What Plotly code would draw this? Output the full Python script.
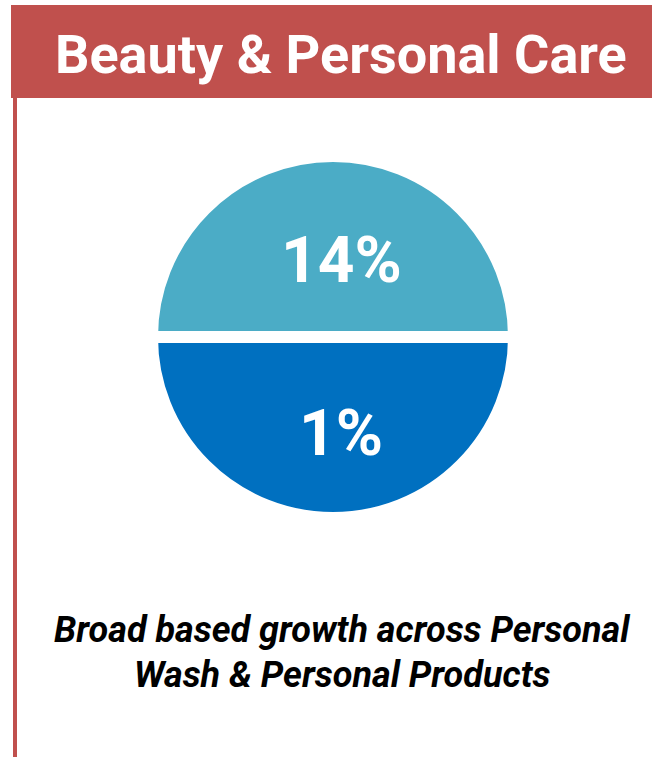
import plotly.graph_objects as go

W, H = 652, 757

# Data
title_text = "Beauty & Personal Care"
segments = ["Personal Wash", "Personal Products"]
growth_labels = ["14%", "1%"]
shares = [50, 50]
slice_colors = ["#4BACC6", "#0070C0"]
caption_lines = ["Broad based growth across Personal", "Wash & Personal Products"]

RED = "#C0504D"

def px(x):
    return x / W

def py(y):
    return 1 - y / H

fig = go.Figure()

cx, cy, R = 333, 337, 181
fig.add_trace(go.Pie(
    labels=segments,
    values=shares,
    text=growth_labels,
    sort=False,
    direction="clockwise",
    rotation=270,
    marker=dict(colors=slice_colors, line=dict(color="white", width=12)),
    textinfo="none",
    hoverinfo="label+text",
    showlegend=False,
    domain=dict(x=[px(cx - R), px(cx + R)], y=[py(cy + R), py(cy - R)]),
))

shapes = [
    dict(type="rect", xref="paper", yref="paper",
         x0=px(11), x1=px(652), y0=py(98), y1=py(5),
         fillcolor=RED, line=dict(width=0), layer="below"),
    dict(type="rect", xref="paper", yref="paper",
         x0=px(13), x1=px(17), y0=py(757), y1=py(98),
         fillcolor=RED, line=dict(width=0), layer="below"),
]

annotations = [
    dict(text="<b>" + title_text + "</b>", x=px(341), y=py(54),
         xref="paper", yref="paper", showarrow=False,
         xanchor="center", yanchor="middle",
         font=dict(family="Roboto", size=54, color="white")),
]

label_y = [260, 433]
for lab, ly in zip(growth_labels, label_y):
    annotations.append(dict(text="<b>" + lab + "</b>", x=px(341), y=py(ly),
                            xref="paper", yref="paper", showarrow=False,
                            xanchor="center", yanchor="middle",
                            font=dict(family="Roboto", size=64, color="white")))

cap_y = [630, 675]
for line, ly in zip(caption_lines, cap_y):
    annotations.append(dict(text="<b><i>" + line + "</i></b>", x=px(342), y=py(ly),
                            xref="paper", yref="paper", showarrow=False,
                            xanchor="center", yanchor="middle",
                            font=dict(family="Roboto", size=36, color="black")))

fig.update_layout(
    width=W, height=H,
    margin=dict(l=0, r=0, t=0, b=0),
    paper_bgcolor="white", plot_bgcolor="white",
    shapes=shapes, annotations=annotations,
)

fig.write_html("out.html", config={"displayModeBar": False})
